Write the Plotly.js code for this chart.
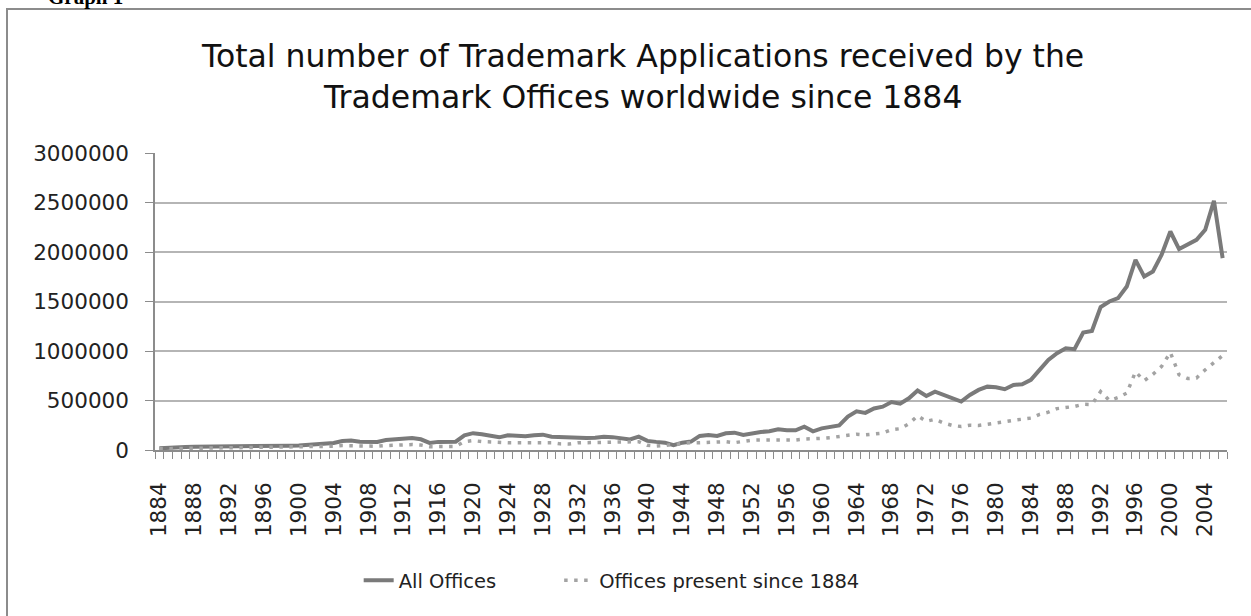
<!DOCTYPE html>
<html>
<head>
<meta charset="utf-8">
<script src="https://cdn.plot.ly/plotly-3.0.1.min.js"></script>
<style>
  body { margin: 0; background: #ffffff; }
  #wrap { position: relative; width: 1251px; height: 616px; overflow: hidden; }
  #frame { position: absolute; left: 6px; top: 8px; width: 1400px; height: 700px;
           border-left: 2px solid #8c8c8c; border-top: 2px solid #8c8c8c; }
  #caption { position: absolute; left: 48px; top: -15px; font: bold 21px "Liberation Serif", serif; color: #000; }
  #chart { position: absolute; left: 0; top: 0; width: 1251px; height: 616px; }
</style>
</head>
<body>
<div id="wrap">
  <div id="chart"></div>
  <div id="frame"></div>
  <div id="caption">Graph 1</div>
</div>
<script>
const firstYear = 1884;
const lastYear = 2006;

const titleLines = [
  "Total number of Trademark Applications received by the",
  "Trademark Offices worldwide since 1884"
];

// Applications per year (1884 ... 2006)
const allOffices = [
  17000, 18000, 22000, 30000, 33000, 33000, 34000, 34000, 34000, 33000,
  35000, 36000, 40000, 42000, 42000, 43000, 45000, 52000, 58000, 64000,
  70000, 90000, 95000, 84000, 82000, 82000, 100000, 108000, 118000, 120000,
  108000, 72000, 82000, 84000, 84000, 148000, 170000, 160000, 148000, 128000,
  148000, 148000, 138000, 150000, 155000, 135000, 130000, 122000, 122000, 122000,
  125000, 135000, 130000, 121000, 107000, 135000, 92000, 82000, 74000, 48000,
  74000, 85000, 142000, 152000, 142000, 169000, 175000, 152000, 169000, 182000,
  189000, 209000, 199000, 199000, 236000, 189000, 219000, 236000, 249000, 337000,
  390000, 375000, 420000, 438000, 485000, 468000, 522000, 600000, 546000, 590000,
  556000, 529000, 489000, 556000, 607000, 640000, 634000, 614000, 657000, 664000,
  708000, 809000, 910000, 978000, 1028000, 1018000, 1186000, 1203000, 1443000, 1500000,
  1534000, 1651000, 1921000, 1752000, 1803000, 1972000, 2207000, 2029000, 2073000, 2123000,
  2224000, 2518000, 1938000
];

const officesSince1884 = [
  12000, 13000, 15000, 18000, 20000, 20000, 21000, 21000, 21000, 21000,
  22000, 22000, 25000, 26000, 26000, 27000, 28000, 30000, 32000, 35000,
  38000, 45000, 42000, 38000, 37000, 38000, 45000, 50000, 55000, 55000,
  50000, 34000, 34000, 35000, 36000, 85000, 95000, 85000, 80000, 72000,
  74000, 74000, 74000, 74000, 76000, 74000, 62000, 60000, 72000, 74000,
  74000, 76000, 74000, 74000, 76000, 84000, 48000, 40000, 47000, 56000,
  66000, 74000, 74000, 78000, 84000, 84000, 74000, 84000, 100000, 101000,
  101000, 101000, 101000, 101000, 110000, 118000, 118000, 125000, 135000, 145000,
  160000, 153000, 165000, 170000, 205000, 215000, 265000, 345000, 290000, 310000,
  272000, 248000, 237000, 250000, 248000, 258000, 268000, 285000, 300000, 310000,
  322000, 360000, 382000, 418000, 428000, 440000, 462000, 460000, 590000, 500000,
  530000, 575000, 790000, 700000, 765000, 845000, 985000, 760000, 722000, 728000,
  810000, 880000, 955000
];

const years = [];
for (let y = firstYear; y <= lastYear; y++) {
  years.push(y);
}
// a label every fourth year
const tickYears = years.filter(y => (y - firstYear) % 4 === 0);

const yTicks = [0, 500000, 1000000, 1500000, 2000000, 2500000, 3000000];

const tickFont = { family: "DejaVu Sans", size: 21.5, color: "#222" };
const titleFont = { family: "DejaVu Sans", size: 31.5, color: "#111" };
const legendFont = { family: "DejaVu Sans", size: 19.5, color: "#222" };

Plotly.newPlot(document.getElementById("chart"), [
  {
    x: years,
    y: allOffices,
    type: "scatter",
    mode: "lines",
    name: "All Offices",
    legend: "legend",
    line: { color: "#7a7a7a", width: 4 }
  },
  {
    x: years,
    y: officesSince1884,
    type: "scatter",
    mode: "lines",
    name: "Offices present since 1884",
    legend: "legend2",
    line: { color: "#a3a3a3", width: 3.5, dash: "3.5px,6.5px" }
  }],
  {
    width: 1251,
    height: 616,
    margin: { l: 155, r: 24, t: 153, b: 166 },
    paper_bgcolor: "#ffffff",
    plot_bgcolor: "#ffffff",
    showlegend: true,
    annotations: [
      {
        text: titleLines[0], xref: "paper", yref: "paper",
        x: 0.455, y: 1.325, xanchor: "center", yanchor: "middle",
        showarrow: false, font: titleFont
      },
      {
        text: titleLines[1], xref: "paper", yref: "paper",
        x: 0.455, y: 1.187, xanchor: "center", yanchor: "middle",
        showarrow: false, font: titleFont
      }
    ],
    xaxis: {
      range: [firstYear - 0.5, lastYear + 0.5],
      tickmode: "array",
      tickvals: tickYears,
      ticktext: tickYears.map(String),
      tickangle: -90,
      ticks: "",
      ticklabelstandoff: 22,
      tickfont: tickFont,
      showgrid: false,
      zeroline: false,
      showline: true,
      linecolor: "#8c8c8c",
      linewidth: 1.5,
      minor: {
        tickmode: "linear",
        tick0: firstYear - 0.5,
        dtick: 1,
        ticks: "outside",
        ticklen: 7,
        tickcolor: "#8c8c8c",
        tickwidth: 1,
        showgrid: false
      }
    },
    yaxis: {
      range: [0, 3000000],
      tickmode: "array",
      tickvals: yTicks,
      ticktext: yTicks.map(String),
      ticks: "outside",
      ticklen: 8,
      tickcolor: "#8c8c8c",
      ticklabelstandoff: 12,
      tickfont: tickFont,
      showgrid: true,
      gridcolor: "#b5b5b5",
      gridwidth: 1.5,
      zeroline: false,
      showline: true,
      linecolor: "#8c8c8c",
      linewidth: 1.5
    },
    legend: {
      orientation: "h",
      x: 0.19,
      xanchor: "left",
      y: -0.44,
      yanchor: "middle",
      font: legendFont,
      bgcolor: "rgba(0,0,0,0)"
    },
    legend2: {
      orientation: "h",
      x: 0.377,
      xanchor: "left",
      y: -0.44,
      yanchor: "middle",
      font: legendFont,
      bgcolor: "rgba(0,0,0,0)"
    }
  },
  { displayModeBar: false }
);
</script>
</body>
</html>
